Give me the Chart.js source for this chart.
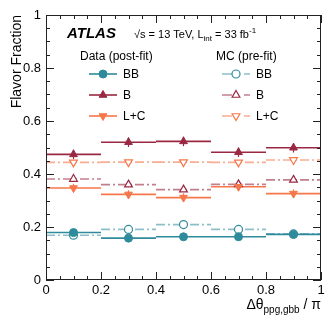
<!DOCTYPE html>
<html>
<head>
<meta charset="utf-8">
<script src="https://cdn.jsdelivr.net/npm/chart.js@4.4.1/dist/chart.umd.min.js"></script>
<style>
  html, body { margin: 0; padding: 0; background: white; }
  #wrap { width: 332px; height: 319px; }
</style>
</head>
<body>
<div id="wrap"><canvas id="fracchart"></canvas></div>
<script>
// Bin centres and half width (delta theta / pi)
const binCenters = [0.1, 0.3, 0.5, 0.7, 0.9];
const binHalfWidth = 0.1;

// Data (post-fit)
const dataBB = [0.179, 0.158, 0.163, 0.163, 0.172];
const dataB = [0.474, 0.520, 0.523, 0.482, 0.499];
const dataLC = [0.347, 0.323, 0.311, 0.352, 0.326];
const errBB = [0.008, 0.008, 0.008, 0.008, 0.008];
const errB = [0.018, 0.018, 0.018, 0.018, 0.018];
const errLC = [0.016, 0.016, 0.016, 0.016, 0.016];

// MC (pre-fit)
const mcBB = [0.169, 0.191, 0.209, 0.191, 0.174];
const mcB = [0.381, 0.360, 0.341, 0.361, 0.378];
const mcLC = [0.444, 0.445, 0.445, 0.444, 0.453];

const yTicks = [0, 0.2, 0.4, 0.6, 0.8, 1];
const xTicks = [0, 0.2, 0.4, 0.6, 0.8, 1];

//Style Guidelines
const teal = '#2f8b9b';
const tealLight = 'rgba(47,139,155,0.55)';
const wine = '#9b2843';
const wineLight = 'rgba(155,40,67,0.6)';
const orange = '#f5774a';
const orangeLight = 'rgba(245,119,74,0.6)';
const fontFam = '"Liberation Sans", Arial, sans-serif';

const toPoints = (vals) => binCenters.map((x, i) => ({x: x, y: vals[i]}));

function series(label, vals, color, lineColor, style, rot, open, errs) {
    return {
        label: label,
        data: toPoints(vals),
        showLine: false,
        pointStyle: style,
        rotation: rot,
        pointRadius: style === 'circle' ? 4 : 4.5,
        pointBorderWidth: open ? 1.2 : 1,
        pointBackgroundColor: open ? 'white' : color,
        pointBorderColor: color,
        lineColor: lineColor,
        dashed: open,
        errs: errs,
    };
}

const ctx = document.getElementById('fracchart');

// horizontal bin segments + error bars, drawn via the scales
const binLines = {
    id: 'binLines',
    beforeDatasetsDraw(chart) {
        const {ctx, scales: {x, y}} = chart;
        ctx.save();
        chart.data.datasets.forEach(ds => {
            ctx.strokeStyle = ds.lineColor;
            ctx.lineWidth = 1.6;
            ctx.setLineDash(ds.dashed ? [9, 3, 2, 3] : []);
            ds.data.forEach((p, i) => {
                const py = y.getPixelForValue(p.y);
                ctx.beginPath();
                ctx.moveTo(x.getPixelForValue(p.x - binHalfWidth), py);
                ctx.lineTo(x.getPixelForValue(p.x + binHalfWidth), py);
                ctx.stroke();
                if (ds.errs) {
                    ctx.setLineDash([]);
                    ctx.strokeStyle = ds.pointBorderColor;
                    ctx.lineWidth = 1.2;
                    const px = x.getPixelForValue(p.x);
                    ctx.beginPath();
                    ctx.moveTo(px, y.getPixelForValue(p.y - ds.errs[i]));
                    ctx.lineTo(px, y.getPixelForValue(p.y + ds.errs[i]));
                    ctx.stroke();
                    ctx.strokeStyle = ds.lineColor;
                    ctx.lineWidth = 1.6;
                }
            });
        });
        ctx.restore();
    }
};

// frame, inner ticks, titles, legend
const atlasDecor = {
    id: 'atlasDecor',
    afterDraw(chart) {
        const {ctx, chartArea: {left, top, right, bottom}, scales: {x, y}} = chart;
        ctx.save();
        ctx.strokeStyle = '#222';
        ctx.lineWidth = 1;
        ctx.strokeRect(left + 0.5, top + 0.5, right - left - 1, bottom - top - 1);

        // ticks every 0.05, major every 0.2
        for (let k = 0; k <= 20; k++) {
            const v = k * 0.05;
            const len = (k % 4 === 0) ? 8 : 4;
            const px = Math.round(x.getPixelForValue(v)) + 0.5;
            const py = Math.round(y.getPixelForValue(v)) + 0.5;
            ctx.beginPath();
            ctx.moveTo(px, bottom); ctx.lineTo(px, bottom - len);
            ctx.moveTo(px, top); ctx.lineTo(px, top + len);
            ctx.moveTo(left, py); ctx.lineTo(left + len, py);
            ctx.moveTo(right, py); ctx.lineTo(right - len, py);
            ctx.stroke();
        }

        ctx.fillStyle = 'black';
        // y title
        ctx.save();
        ctx.translate(17, top);
        ctx.rotate(-Math.PI / 2);
        ctx.textAlign = 'right';
        ctx.textBaseline = 'middle';
        ctx.font = '14px ' + fontFam;
        ctx.fillText('Flavor Fraction', 0, 0);
        ctx.restore();

        // x title: Δθ_ppg,gbb / π
        ctx.textBaseline = 'alphabetic';
        ctx.textAlign = 'left';
        ctx.font = '14px ' + fontFam;
        const p1 = '\u0394\u03b8';
        const sub = 'ppg,gbb';
        const p2 = ' / \u03c0';
        ctx.font = '14px ' + fontFam;
        const w1 = ctx.measureText(p1).width, w3 = ctx.measureText(p2).width;
        ctx.font = '10px ' + fontFam;
        const w2 = ctx.measureText(sub).width;
        let tx = right - (w1 + w2 + w3);
        ctx.font = '14px ' + fontFam;
        ctx.fillText(p1, tx, 309);
        ctx.font = '10px ' + fontFam;
        ctx.fillText(sub, tx + w1, 313);
        ctx.font = '14px ' + fontFam;
        ctx.fillText(p2, tx + w1 + w2, 309);

        // ATLAS label
        ctx.font = 'italic bold 15px ' + fontFam;
        ctx.fillText('ATLAS', 67, 38);
        ctx.font = '11px ' + fontFam;
        let sx = 134;
        ctx.fillText('\u221as = 13 TeV, L', sx, 38);
        sx += ctx.measureText('\u221as = 13 TeV, L').width;
        ctx.font = '8px ' + fontFam;
        ctx.fillText('int', sx, 41);
        sx += ctx.measureText('int').width;
        ctx.font = '11px ' + fontFam;
        ctx.fillText(' = 33 fb', sx, 38);
        sx += ctx.measureText(' = 33 fb').width;
        ctx.font = '8px ' + fontFam;
        ctx.fillText('-1', sx, 33);

        // legend
        ctx.font = '12px ' + fontFam;
        ctx.textBaseline = 'middle';
        ctx.fillText('Data (post-fit)', 80, 57);
        ctx.fillText('MC (pre-fit)', 216, 57);
        const rows = [74, 95, 116];
        const ds = chart.data.datasets;
        for (let r = 0; r < 3; r++) {
            const d = ds[r], m = ds[r + 3], ly = rows[r];
            ctx.lineWidth = 1.6;
            ctx.setLineDash([]);
            ctx.strokeStyle = d.lineColor;
            ctx.beginPath(); ctx.moveTo(89, ly); ctx.lineTo(117, ly); ctx.stroke();
            ctx.fillStyle = d.pointBackgroundColor;
            ctx.strokeStyle = d.pointBorderColor;
            ctx.lineWidth = d.pointBorderWidth;
            Chart.helpers.drawPoint(ctx, {pointStyle: d.pointStyle, radius: d.pointRadius, rotation: d.rotation, borderWidth: d.pointBorderWidth}, 103, ly);
            ctx.fillStyle = 'black';
            ctx.fillText(d.label, 123, ly + 1);

            ctx.lineWidth = 1.6;
            ctx.strokeStyle = m.lineColor;
            ctx.beginPath(); ctx.moveTo(222, ly); ctx.lineTo(232, ly); ctx.moveTo(244, ly); ctx.lineTo(250, ly); ctx.stroke();
            ctx.fillStyle = 'white';
            ctx.strokeStyle = m.pointBorderColor;
            ctx.lineWidth = m.pointBorderWidth;
            Chart.helpers.drawPoint(ctx, {pointStyle: m.pointStyle, radius: m.pointRadius, rotation: m.rotation, borderWidth: m.pointBorderWidth}, 236, ly);
            ctx.fillStyle = 'black';
            ctx.fillText(m.label, 256, ly + 1);
        }
        ctx.restore();
    }
};

const data = {
    datasets: [
        series('BB', dataBB, teal, teal, 'circle', 0, false, errBB),
        series('B', dataB, wine, wine, 'triangle', 0, false, errB),
        series('L+C', dataLC, orange, orange, 'triangle', 180, false, errLC),
        series('BB', mcBB, teal, tealLight, 'circle', 0, true, null),
        series('B', mcB, wine, wineLight, 'triangle', 0, true, null),
        series('L+C', mcLC, orange, orangeLight, 'triangle', 180, true, null),
    ]
};

const fmt = (v) => (v === 0 || v === 1) ? String(v) : v.toFixed(1);

const config = {
    type: 'scatter',
    data: data,
    plugins: [binLines, atlasDecor],
    options: {
        animation: false,
        responsive: true,
        maintainAspectRatio: false,
        layout: {padding: {top: 15, right: 11, left: 0, bottom: 0}},
        plugins: {
            legend: {display: false},
            tooltip: {enabled: false},
        },
        scales: {
            x: {
                type: 'linear', min: 0, max: 1,
                grid: {display: false, drawTicks: false},
                border: {display: false},
                afterFit: (s) => { s.height = 39; },
                afterBuildTicks: (s) => { s.ticks = xTicks.map(v => ({value: v})); },
                ticks: {
                    padding: 3, color: 'black', maxRotation: 0,
                    font: {family: fontFam, size: 13},
                    callback: fmt,
                },
            },
            y: {
                min: 0, max: 1,
                grid: {display: false, drawTicks: false},
                border: {display: false},
                afterFit: (s) => { s.width = 46; },
                afterBuildTicks: (s) => { s.ticks = yTicks.map(v => ({value: v})); },
                ticks: {
                    padding: 5, color: 'black',
                    font: {family: fontFam, size: 13},
                    callback: fmt,
                },
            },
        },
    },
};

var fracChart = new Chart(ctx, config);
</script>
</body>
</html>
